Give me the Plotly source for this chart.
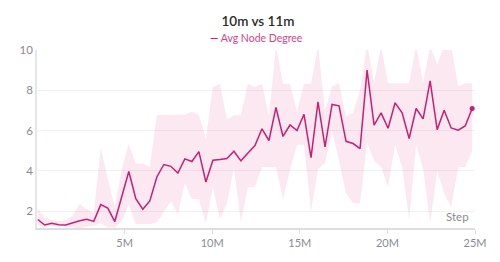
import plotly.graph_objects as go

# Step values (millions)
steps_m = [0.04, 0.44, 0.84, 1.24, 1.64, 2.04, 2.44, 2.84, 3.24, 3.64,
           4.04, 4.44, 4.84, 5.24, 5.64, 6.04, 6.44, 6.84, 7.24, 7.64,
           8.04, 8.44, 8.84, 9.24, 9.64, 10.04, 10.44, 10.84, 11.24, 11.64,
           12.04, 12.44, 12.84, 13.24, 13.64, 14.04, 14.44, 14.84, 15.24, 15.64,
           16.04, 16.44, 16.84, 17.24, 17.64, 18.04, 18.44, 18.84, 19.24, 19.64,
           20.04, 20.44, 20.84, 21.24, 21.64, 22.04, 22.44, 22.84, 23.24, 23.64,
           24.04, 24.44, 24.84]

avg_degree = [1.59, 1.32, 1.40, 1.33, 1.32, 1.44, 1.53, 1.60, 1.50, 2.33,
              2.16, 1.49, 2.73, 3.97, 2.63, 2.10, 2.51, 3.70, 4.32, 4.23,
              3.90, 4.60, 4.47, 4.96, 3.45, 4.53, 4.57, 4.62, 4.98, 4.50,
              4.89, 5.26, 6.09, 5.51, 7.15, 5.71, 6.28, 6.00, 6.81, 4.66,
              7.43, 5.19, 7.30, 7.23, 5.47, 5.36, 5.11, 9.00, 6.27, 6.88,
              6.12, 7.38, 6.88, 5.61, 7.10, 6.58, 8.47, 6.05, 7.01, 6.13,
              6.02, 6.23, 7.10]

band_upper = [2.10, 1.70, 1.55, 1.50, 1.55, 1.80, 2.35, 2.10, 1.90, 5.15,
              3.60, 2.20, 4.10, 5.35, 4.37, 4.37, 4.18, 6.78, 6.78, 6.78,
              6.78, 6.80, 6.95, 6.76, 5.60, 8.17, 8.33, 6.55, 6.76, 6.76,
              8.33, 8.17, 8.33, 6.70, 10.2, 8.33, 8.33, 6.95, 8.33, 8.33,
              10.2, 7.00, 8.20, 8.35, 6.70, 6.90, 8.00, 10.3, 8.40, 10.2,
              8.35, 8.35, 8.35, 8.35, 10.2, 8.40, 10.2, 9.30, 10.2, 10.2,
              8.20, 8.35, 8.35]

band_lower = [1.30, 1.25, 1.30, 1.25, 1.25, 1.20, 1.15, 1.25, 1.30, 1.40,
              1.20, 1.20, 1.50, 2.35, 1.35, 1.35, 1.35, 1.45, 2.00, 2.50,
              1.85, 3.40, 2.60, 2.60, 1.40, 3.20, 1.60, 2.40, 4.15, 1.45,
              3.20, 3.20, 4.20, 4.20, 4.20, 2.60, 4.05, 5.30, 5.30, 2.00,
              4.10, 4.40, 6.00, 4.50, 2.90, 2.40, 2.40, 5.40, 4.50, 4.20,
              3.20, 5.30, 4.20, 1.60, 5.30, 4.10, 1.40, 4.00, 2.90, 2.20,
              4.20, 4.20, 5.00]

x_tick_vals_m = [5, 10, 15, 20, 25]
x_tick_text = ["5M", "10M", "15M", "20M", "25M"]
y_tick_vals = [2, 4, 6, 8, 10]

title_text = "10m vs 11m"
series_name = "Avg Node Degree"

steps = [s * 1e6 for s in steps_m]
LINE = "#c81f74"
FILL = "rgba(219, 68, 140, 0.12)"
FONT = "Lato, 'Source Sans Pro', sans-serif"

fig = go.Figure()
fig.add_trace(go.Scatter(x=steps, y=band_upper, mode="lines", line=dict(width=0),
                         hoverinfo="skip", showlegend=False))
fig.add_trace(go.Scatter(x=steps, y=band_lower, mode="lines", line=dict(width=0),
                         fill="tonexty", fillcolor=FILL, hoverinfo="skip", showlegend=False))
fig.add_trace(go.Scatter(x=steps, y=avg_degree, mode="lines", name=series_name,
                         line=dict(color=LINE, width=1.5), showlegend=False))
fig.add_trace(go.Scatter(x=[steps[-1]], y=[avg_degree[-1]], mode="markers",
                         marker=dict(color=LINE, size=5), showlegend=False, hoverinfo="skip"))

fig.update_layout(
    width=500, height=262,
    margin=dict(l=27, r=33, t=42, b=42),
    paper_bgcolor="white", plot_bgcolor="white",
    font=dict(family=FONT, color="#8a8a93"),
    title=dict(text=title_text, x=0.5, xanchor="center", y=0.95, yanchor="middle",
               font=dict(size=13.5, color="#2b2b2b", family=FONT, weight=600)),
    xaxis=dict(range=[0, 25e6], tickvals=[v * 1e6 for v in x_tick_vals_m], ticktext=x_tick_text,
               showgrid=False, zeroline=False, showline=True, linecolor="#dedede", linewidth=1.5,
               ticks="outside", ticklen=4, tickcolor="#dedede", tickfont=dict(size=11, color="#8a8a93")),
    yaxis=dict(range=[1.17, 10.0], tickvals=y_tick_vals, showgrid=True, gridcolor="#f1f1f1",
               zeroline=False, showline=True, linecolor="#e6e6e6", linewidth=1.5,
               ticks="", tickfont=dict(size=11.5, color="#8a8a93")),
    annotations=[
        dict(text="Step", xref="paper", yref="paper", x=0.99, y=0.015, xanchor="right",
             yanchor="bottom", showarrow=False, font=dict(size=11.5, color="#8a8a93")),
        dict(text="<span style='color:%s'><b>—</b></span> %s" % (LINE, series_name), xref="paper",
             yref="paper", x=0.5, y=1.067, xanchor="center", yanchor="middle", showarrow=False,
             font=dict(size=10.5, color="#d0468c")),
    ],
)

fig.write_html("out.html")
